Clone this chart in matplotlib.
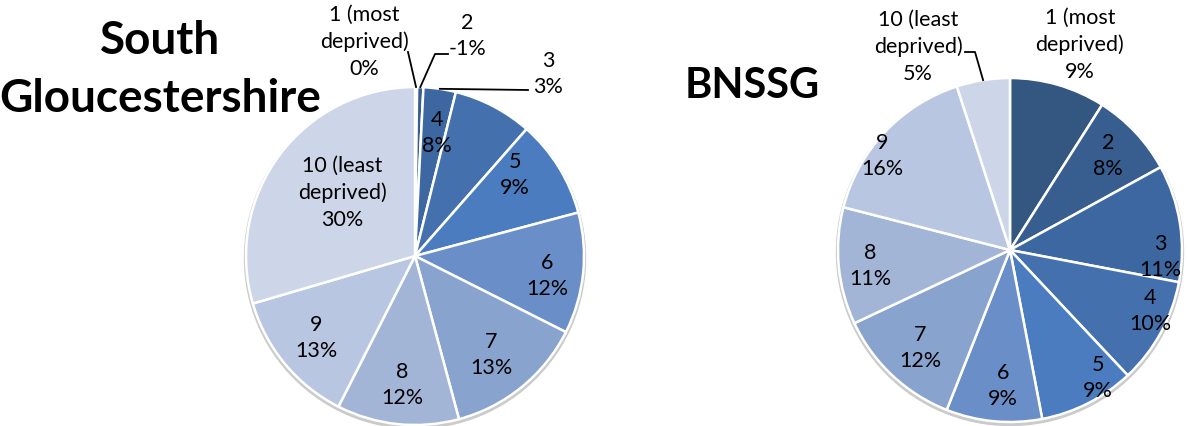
import numpy as np
import matplotlib.pyplot as plt
from matplotlib.patches import Circle

# deprivation deciles
deciles = ['1 (most\ndeprived)', '2', '3', '4', '5', '6', '7', '8', '9', '10 (least\ndeprived)']

# share of change per decile (%)
sglos_vals = [0.2, -0.6, 3.1, 7.6, 9.4, 11.6, 13.4, 11.7, 13.0, 29.6]
bnssg_vals = [9, 8, 11, 10, 9, 9, 12, 11, 16, 5]

blues = ['#335781', '#385d8f', '#3c67a1', '#4471ae', '#4a7cbf',
         '#6a8fc8', '#89a3cf', '#a3b5d7', '#b9c6e1', '#cdd6e8']

W, H = 1188, 427
fig = plt.figure(figsize=(W / 100, H / 100), dpi=100)
ax = fig.add_axes([0, 0, 1, 1])

font = ['Lato', 'DejaVu Sans']


def draw_pie(vals, centre, r, label_off, leaders):
    cx, cy = centre
    # soft shadow under the rim
    ax.add_patch(Circle((cx, cy - 2), r + 1.5, color='#cbcbcb', zorder=1))
    sizes = np.abs(vals)
    wedges, _ = ax.pie(sizes, colors=blues, startangle=90, counterclock=False,
                       center=centre, radius=r,
                       wedgeprops=dict(edgecolor='white', linewidth=1.8))
    for w in wedges:
        w.set_zorder(2)
    frac = sizes / sizes.sum()
    mids = (np.cumsum(frac) - frac / 2) * 2 * np.pi
    for i, (name, v) in enumerate(zip(deciles, vals)):
        dx, dy = label_off[i]
        ax.text(cx + dx, cy + dy, f'{name}\n{v:.0f}%', ha='center', va='center',
                multialignment='center', fontsize=15.5, family=font,
                linespacing=1.4, color='black', zorder=4)
    # leader lines for the labels that sit outside the pie
    for i, pts in leaders.items():
        tip = (cx + r * np.sin(mids[i]), cy + r * np.cos(mids[i]))
        xs = [cx + p[0] for p in pts] + [tip[0]]
        ys = [cy + p[1] for p in pts] + [tip[1]]
        ax.plot(xs, ys, color='black', lw=1.3, zorder=3)


# label offsets from each pie centre (pixels, y up)
sglos_off = [(-51, 215), (52, 221), (133, 183), (22, 124), (100, 82),
             (132, -19), (76, -98), (-13, -128), (-99, -81), (-73, 64)]
bnssg_off = [(70, 206), (98, 95), (150, -6), (140, -60), (88, -127),
             (-7, -135), (-90, -97), (-140, -15), (-128, 95), (-92, 204)]

draw_pie(sglos_vals, (415, 170), 169, sglos_off,
         {0: [(-7, 204)], 1: [(33, 202), (20, 202)], 2: [(113, 166)]})
draw_pie(bnssg_vals, (1010, 176), 172, bnssg_off,
         {9: [(-45, 198), (-35, 198)]})

ax.text(160, 357, 'South\nGloucestershire', ha='center', va='center',
        fontsize=33, fontweight='bold', family=font, linespacing=1.45)
ax.text(752, 341, 'BNSSG', ha='center', va='center',
        fontsize=30, fontweight='bold', family=font)

# pie() resets the limits, so set them afterwards
ax.set_xlim(0, W)
ax.set_ylim(0, H)
ax.set_aspect('equal')
ax.axis('off')

fig.savefig('out.png', dpi=100)
